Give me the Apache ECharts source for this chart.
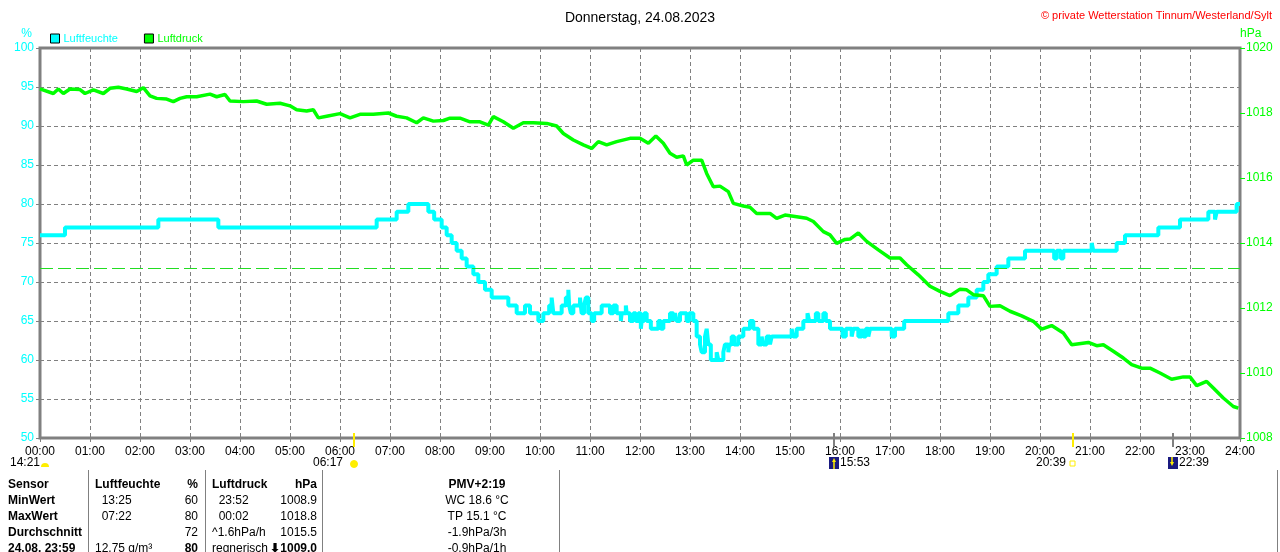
<!DOCTYPE html>
<html>
<head>
<meta charset="utf-8">
<script src="https://cdn.jsdelivr.net/npm/echarts@6/dist/echarts.min.js"></script>
<style>
	html, body { margin: 0; padding: 0; background: #fff; }
	#chart { width: 1280px; height: 552px; }
</style>
</head>
<body>
<div id="chart"></div>
<script>
// Daten: Zeit in Minuten seit 00:00
var hourLabels = ['00:00','01:00','02:00','03:00','04:00','05:00','06:00','07:00','08:00','09:00','10:00','11:00','12:00',
	'13:00','14:00','15:00','16:00','17:00','18:00','19:00','20:00','21:00','22:00','23:00','24:00'];

// Luftfeuchte (%), Stufenwerte
var humMinutes = [0,30,142,214,404,428,442,466,473,482,488,494,500,506,512,520,526,534,542,562,572,
	582,588,598,604,611,614,616,626,631,634,635,637,640,648,650,653,655,658,662,665,674,684,688,692,697,698,
	703,704,708,712,715,718,721,722,725,728,733,742,745,748,756,760,762,764,768,776,779,784,788,792,794,798,
	800,802,805,812,814,820,822,826,827,830,833,838,844,852,856,862,866,868,872,876,878,902,904,908,916,921,
	923,931,934,940,943,948,963,967,974,976,982,986,988,991,994,996,1022,1026,1037,1090,1102,1114,1124,1132,
	1138,1148,1162,1182,1217,1220,1225,1228,1262,1264,1292,1302,1342,1368,1402,1410,1412,1436,1440];
var humValues = [76,77,78,77,78,79,80,79,78,77,76,75,74,73,72,71,70,69,68,67,66,
	67,66,65,66,67,68,66,67,68,69,67,66,67,68,66,67,68,66,65,66,67,66,67,66,65,66,
	67,66,65,66,65,66,64,65,66,65,64,65,64,65,66,65,66,65,66,65,66,65,63,62,61,63,
	64,62,60,61,60,61,62,61,62,63,62,63,64,65,64,62,63,62,63,62,63,64,63,64,65,66,
	65,66,65,66,65,64,63,64,63,64,63,64,63,64,63,64,63,64,65,66,67,68,69,70,
	71,72,73,74,73,74,73,74,75,74,75,76,77,78,79,78,79,80,80];
var humAverage = 71.7;

// Luftdruck (hPa)
var pressMinutes = [0,16,22,28,36,48,54,64,76,84,94,104,116,124,132,140,152,160,168,176,188,204,212,222,228,244,
	260,272,288,300,308,320,328,334,344,360,372,384,400,418,428,440,452,460,472,484,492,504,516,528,538,544,556,
	568,580,592,608,620,628,640,652,662,670,680,692,708,720,730,739,748,756,764,772,776,784,794,800,808,816,826,
	832,844,852,860,876,884,894,908,920,928,940,948,956,966,972,982,992,1006,1020,1032,1040,1054,1068,1080,1092,
	1104,1112,1120,1132,1140,1152,1164,1178,1192,1202,1214,1228,1238,1258,1268,1276,1288,1300,1310,1322,1332,
	1344,1358,1372,1380,1388,1400,1408,1420,1432,1438];
var pressValues = [1018.74,1018.60,1018.74,1018.60,1018.74,1018.72,1018.60,1018.71,1018.60,1018.76,1018.79,1018.74,
	1018.66,1018.78,1018.53,1018.45,1018.43,1018.35,1018.45,1018.50,1018.50,1018.58,1018.50,1018.57,1018.37,1018.35,
	1018.37,1018.27,1018.30,1018.22,1018.10,1018.06,1018.10,1017.85,1017.90,1017.98,1017.85,1017.96,1017.96,1018.00,
	1017.90,1017.85,1017.70,1017.85,1017.75,1017.77,1017.84,1017.84,1017.73,1017.73,1017.63,1017.89,1017.73,1017.53,
	1017.70,1017.70,1017.68,1017.60,1017.37,1017.17,1017.02,1016.91,1017.12,1017.02,1017.12,1017.22,1017.22,1017.07,
	1017.29,1017.07,1016.76,1016.64,1016.68,1016.40,1016.55,1016.55,1016.14,1015.73,1015.75,1015.58,1015.22,1015.14,
	1015.10,1014.91,1014.91,1014.76,1014.86,1014.81,1014.76,1014.66,1014.35,1014.25,1013.99,1014.11,1014.12,1014.31,
	1014.05,1013.79,1013.54,1013.54,1013.33,1013.02,1012.67,1012.51,1012.38,1012.58,1012.56,1012.41,1012.38,1012.05,
	1012.07,1011.90,1011.76,1011.59,1011.35,1011.46,1011.23,1010.87,1010.94,1010.84,1010.87,1010.67,1010.46,1010.26,
	1010.15,1010.15,1010.00,1009.81,1009.88,1009.88,1009.61,1009.74,1009.54,1009.23,1008.97,1008.92];

// Astro-Ereignisse: [Minute, Text, Art]
var astroEvents = [[377,'06:17','sunrise'],[953,'15:53','moonrise'],[1239,'20:39','sunset'],[1359,'22:39','moonset']];

// Tabelle unten
var tableRows = [
	['Sensor','Luftfeuchte','%','Luftdruck','hPa','PMV+2:19'],
	['MinWert','  13:25','60','  23:52','1008.9','WC 18.6 °C'],
	['MaxWert','  07:22','80','  00:02','1018.8','TP 15.1 °C'],
	['Durchschnitt','','72','^1.6hPa/h','1015.5','-1.9hPa/3h'],
	['24.08. 23:59','12.75 g/m³','80','regnerisch','⬇1009.0','-0.9hPa/1h']
];

function zip(a, b) {
	var out = [];
	for (var i = 0; i < a.length; i++) out.push([a[i], b[i]]);
	return out;
}

var FONT = 'Liberation Sans';
var chart = echarts.init(document.getElementById('chart'));

// Tabellen-Texte
var tableGraphics = [];
var colX = [8, 95, 198, 212, 317, 477];
var colAlign = ['left','left','right','left','right','center'];
tableRows.forEach(function(row, r) {
	row.forEach(function(txt, c) {
		var bold = (r === 0 && c !== 0) || c === 0 || (r === 4 && (c === 2 || c === 4));
		tableGraphics.push({
			type: 'text', x: colX[c], y: 485 + r * 16,
			style: {
				text: txt, fill: '#000', font: (bold ? 'bold ' : '') + '12px ' + FONT,
				textAlign: colAlign[c], textVerticalAlign: 'middle'
			},
			silent: true
		});
	});
});
[88, 205, 322, 559, 1277].forEach(function(x) {
	tableGraphics.push({ type: 'line', shape: { x1: x + 0.5, y1: 470, x2: x + 0.5, y2: 552 },
		style: { stroke: '#808080', lineWidth: 1 }, silent: true });
});

var option = {
	backgroundColor: '#fff',
	animation: false,
	textStyle: { fontFamily: FONT },
	title: [{
		text: 'Donnerstag, 24.08.2023',
		left: 'center', top: 6,
		textStyle: { fontSize: 14, fontWeight: 'normal', color: '#000', fontFamily: FONT }
	}, {
		text: '© private Wetterstation Tinnum/Westerland/Sylt',
		right: 3, top: 5,
		textStyle: { fontSize: 11, fontWeight: 'normal', color: '#ff0000', fontFamily: FONT }
	}],
	legend: {
		left: 45, top: 28,
		itemWidth: 9, itemHeight: 9, itemGap: 26,
		icon: 'rect',
		itemStyle: { borderColor: '#000', borderWidth: 1 },
		data: [
			{ name: 'Luftfeuchte', textStyle: { color: '#00ffff' } },
			{ name: 'Luftdruck', textStyle: { color: '#00ff00' } }
		],
		textStyle: { fontSize: 11, fontFamily: FONT, padding: [0, 0, 0, -1] }
	},
	grid: {
		left: 40, right: 40, top: 48, bottom: 114,
		show: true, borderColor: '#808080', borderWidth: 3, backgroundColor: '#fff'
	},
	xAxis: {
		type: 'value', min: 0, max: 1440, interval: 60,
		axisLine: { show: false },
		axisTick: { show: true, length: 4, lineStyle: { color: '#808080' } },
		axisLabel: {
			color: '#000', fontSize: 12, margin: 8, fontFamily: FONT,
			formatter: function(v) { return hourLabels[Math.round(v / 60)]; }
		},
		splitLine: { show: true, lineStyle: { color: '#808080', type: [4, 3], width: 1 } }
	},
	yAxis: [{
		type: 'value', min: 50, max: 100, interval: 5,
		name: '%', nameLocation: 'end', nameGap: 8,
		nameTextStyle: { color: '#00ffff', fontSize: 12, align: 'right', padding: [0, 8, 0, 0] },
		axisLine: { show: false },
		axisTick: { show: true, length: 4, lineStyle: { color: '#808080' } },
		axisLabel: { color: '#00ffff', fontSize: 12, margin: 6, fontFamily: FONT },
		splitLine: { show: true, lineStyle: { color: '#808080', type: [4, 3], width: 1 } }
	}, {
		type: 'value', min: 1008, max: 1020, interval: 2,
		position: 'right',
		name: 'hPa', nameLocation: 'end', nameGap: 8,
		nameTextStyle: { color: '#00ff00', fontSize: 12, align: 'left' },
		axisLine: { show: false },
		axisTick: { show: true, length: 5, lineStyle: { color: '#00ff00' } },
		axisLabel: {
			color: '#00ff00', fontSize: 12, margin: 6, fontFamily: FONT,
			formatter: function(v) { return String(v); }
		},
		splitLine: { show: false }
	}],
	series: [{
		name: 'Luftfeuchte',
		type: 'line',
		yAxisIndex: 0,
		step: 'end',
		showSymbol: false,
		symbol: 'none',
		color: '#00ffff',
		lineStyle: { color: '#00ffff', width: 4 },
		data: zip(humMinutes, humValues),
		markLine: {
			silent: true, symbol: 'none', label: { show: false },
			lineStyle: { color: '#22dd22', type: [13, 5], width: 1 },
			data: [{ yAxis: humAverage }]
		},
		z: 3
	}, {
		name: 'Luftdruck',
		type: 'line',
		yAxisIndex: 1,
		showSymbol: false,
		symbol: 'none',
		color: '#00ff00',
		lineStyle: { color: '#00ff00', width: 3.5 },
		data: zip(pressMinutes, pressValues),
		z: 4
	}],
	graphic: tableGraphics
};

chart.setOption(option);

// Sonnen-/Mond-Markierungen an der Zeitachse
var astroGraphics = [];
var axisY = chart.convertToPixel({ yAxisIndex: 0 }, 50);
astroEvents.forEach(function(ev) {
	var px = Math.round(chart.convertToPixel({ xAxisIndex: 0 }, ev[0]));
	var sun = ev[2] === 'sunrise' || ev[2] === 'sunset';
	astroGraphics.push({ type: 'line', shape: { x1: px, y1: axisY - 5, x2: px, y2: axisY + 9 },
		style: { stroke: sun ? '#ffee00' : '#808080', lineWidth: 2 }, silent: true, z: 10 });
	if (ev[2] === 'sunrise') {
		astroGraphics.push({ type: 'text', x: px - 11, y: 463, style: { text: ev[1], font: '12px ' + FONT, fill: '#000', textAlign: 'right', textVerticalAlign: 'middle' } });
		astroGraphics.push({ type: 'circle', shape: { cx: px, cy: 464, r: 3.5 }, style: { fill: '#ffee00', stroke: '#ffee00' } });
	} else if (ev[2] === 'sunset') {
		astroGraphics.push({ type: 'text', x: px - 7, y: 463, style: { text: ev[1], font: '12px ' + FONT, fill: '#000', textAlign: 'right', textVerticalAlign: 'middle' } });
		astroGraphics.push({ type: 'rect', shape: { x: px - 3, y: 461, width: 5, height: 5 }, style: { fill: '#fff', stroke: '#ffee00', lineWidth: 1 } });
	} else {
		var up = ev[2] === 'moonrise';
		astroGraphics.push({ type: 'rect', shape: { x: px - 5, y: 457, width: 10, height: 12 }, style: { fill: '#1a1a80' } });
		astroGraphics.push({ type: 'polygon', shape: { points: up ? [[px - 2, 462], [px + 2, 462], [px, 458]] : [[px - 3, 462], [px + 1, 462], [px - 1, 466]] }, style: { fill: '#ffee00' } });
		astroGraphics.push({ type: 'line', shape: { x1: up ? px : px - 1, y1: up ? 462 : 457, x2: up ? px : px - 1, y2: up ? 469 : 462 }, style: { stroke: '#ffee00', lineWidth: 1.5 } });
		astroGraphics.push({ type: 'text', x: px + 6, y: 463, style: { text: ev[1], font: '12px ' + FONT, fill: '#000', textAlign: 'left', textVerticalAlign: 'middle' } });
	}
});
// Mondaufgang Vortag (links)
astroGraphics.push({ type: 'text', x: 10, y: 463, style: { text: '14:21', font: '12px ' + FONT, fill: '#000', textAlign: 'left', textVerticalAlign: 'middle' } });
astroGraphics.push({ type: 'sector', shape: { cx: 45, cy: 467, r0: 0, r: 4, startAngle: Math.PI, endAngle: Math.PI * 2 }, style: { fill: '#ffee00' } });

chart.setOption({ graphic: tableGraphics.concat(astroGraphics) });
</script>
</body>
</html>
